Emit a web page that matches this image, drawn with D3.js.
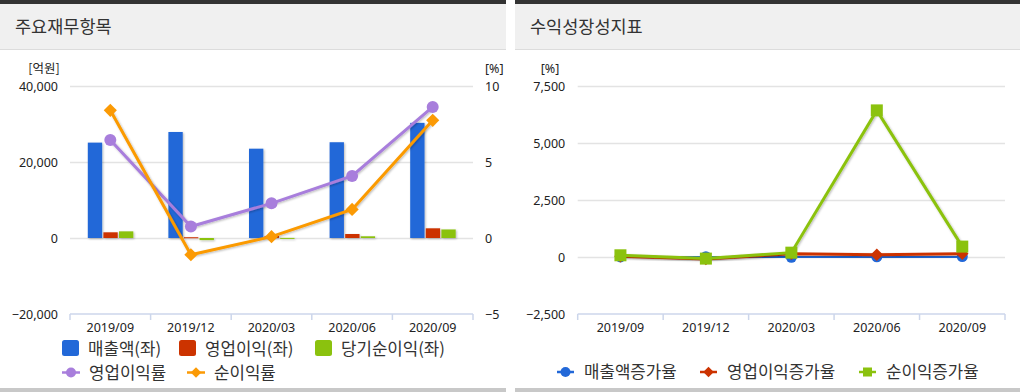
<!DOCTYPE html>
<html><head><meta charset="utf-8">
<script src="https://cdn.jsdelivr.net/npm/d3@7"></script>
<style>
html,body{margin:0;padding:0;background:#fff;}
svg{display:block;font-family:"Noto Sans CJK KR","Noto Sans",sans-serif;}
</style></head>
<body><svg id="c" width="1020" height="392"></svg>
<script>
// ---- data ----
const categories = ["2019/09","2019/12","2020/03","2020/06","2020/09"];
const revenue = [25100, 27900, 23500, 25200, 30300];       // 매출액(좌)
const opProfit = [1500, 200, 540, 1050, 2550];             // 영업이익(좌)
const netProfit = [1750, -550, 30, 450, 2250];             // 당기순이익(좌)
const opMargin = [6.45, 0.76, 2.28, 4.08, 8.62];           // 영업이익률
const netMargin = [8.4, -1.1, 0.09, 1.88, 7.74];           // 순이익률
const leftTicks = [-20000, 0, 20000, 40000];
const rightTicks = [-5, 0, 5, 10];
const revGrowth = [5, 11, -16, 7, 20];                     // 매출액증가율
const opGrowth = [30, -87, 145, 94, 148];                  // 영업이익증가율
const netGrowth = [75, -70, 190, 6430, 456];               // 순이익증가율
const growthTicks = [-2500, 0, 2500, 5000, 7500];

const C = {blue:"#2268d8", red:"#cc3300", green:"#8bc20e", purple:"#a87edc", orange:"#fb9a05",
  grid:"#e3e3e3", axis:"#ccd6eb", text:"#222", legend:"#333"};
const NUMFONT = "'Noto Sans','DejaVu Sans',sans-serif";

const svg = d3.select("#c");
const defs = svg.append("defs");
const f = defs.append("filter").attr("id","sh").attr("x","-20%").attr("y","-20%").attr("width","150%").attr("height","150%");
f.append("feDropShadow").attr("dx",1).attr("dy",1).attr("stdDeviation",1).attr("flood-color","#000").attr("flood-opacity",0.28);

// ---- panels ----
function panel(x0, w, title){
  const g = svg.append("g");
  g.append("rect").attr("x",x0).attr("y",0).attr("width",w).attr("height",4).attr("fill","#333");
  g.append("rect").attr("x",x0).attr("y",4).attr("width",w).attr("height",45).attr("fill","#f0f0f0");
  g.append("rect").attr("x",x0).attr("y",49).attr("width",w).attr("height",1).attr("fill","#dcdcdc");
  g.append("rect").attr("x",x0).attr("y",388).attr("width",w).attr("height",4).attr("fill","#c8c8c8");
  g.append("text").attr("x",x0+15).attr("y",27).attr("dy","0.35em").attr("font-size",17.5)
    .attr("fill","#333").text(title);
}
panel(0, 506, "주요재무항목");
panel(515, 505, "수익성장성지표");

function styleTicks(s){
  s.select(".domain").remove();
  s.selectAll("text").attr("font-size",12.5).attr("fill",C.text).attr("font-family",NUMFONT);
}

// ---- left chart ----
(function(){
  const L=70, R=473, T=86, B=314;
  const x = d3.scaleBand().domain(categories).range([L,R]);
  const cx = c => x(c)+x.bandwidth()/2;
  const y = d3.scaleLinear().domain([-20000,40000]).range([B,T]);
  const y2 = d3.scaleLinear().domain([-5,10]).range([B,T]);
  const g = svg.append("g");
  g.append("g").attr("transform",`translate(${L},0)`)
    .call(d3.axisLeft(y).tickValues(leftTicks.filter(v=>v!==-20000)).tickSize(-(R-L)).tickFormat(""))
    .call(s=>{s.select(".domain").remove(); s.selectAll("line").attr("stroke",C.grid).attr("stroke-width",1.5);});
  g.append("g").attr("transform",`translate(${L-12},0)`)
    .call(d3.axisLeft(y).tickValues(leftTicks).tickSize(0).tickPadding(0).tickFormat(d3.format(",")))
    .call(styleTicks);
  g.append("g").attr("transform",`translate(${R+12},0)`)
    .call(d3.axisRight(y2).tickValues(rightTicks).tickSize(0).tickPadding(0))
    .call(styleTicks);
  g.append("text").attr("x",44).attr("y",73).attr("text-anchor","middle").attr("font-size",12.5).attr("fill",C.text).text("[억원]");
  g.append("text").attr("x",485).attr("y",73).attr("font-size",12.5).attr("fill",C.text).attr("font-family",NUMFONT).text("[%]");
  g.append("line").attr("x1",L).attr("x2",R).attr("y1",B).attr("y2",B).attr("stroke",C.axis).attr("stroke-width",1.5);
  const bounds = categories.map(c=>x(c)).concat([R]);
  g.selectAll(".tk").data(bounds).enter().append("line").attr("x1",d=>d).attr("x2",d=>d).attr("y1",B).attr("y2",B+6).attr("stroke",C.axis).attr("stroke-width",1.5);
  g.append("g").attr("transform",`translate(0,${B+14})`)
    .call(d3.axisBottom(x).tickSize(0).tickPadding(0))
    .call(styleTicks).call(s=>s.selectAll("text").attr("dy","0.35em"));
  // bars
  const barSeries = [{k:"rev",v:revenue,c:C.blue},{k:"op",v:opProfit,c:C.red},{k:"net",v:netProfit,c:C.green}];
  const x1 = d3.scaleBand().domain(barSeries.map(d=>d.k)).range([-22.5,23]).paddingInner(0.08);
  barSeries.forEach(s=>{
    g.append("g").attr("filter","url(#sh)").selectAll("rect").data(s.v).enter().append("rect")
      .attr("x",(d,i)=>cx(categories[i])+x1(s.k)).attr("width",x1.bandwidth())
      .attr("y",d=>y(Math.max(0,d))).attr("height",d=>Math.max(1,Math.abs(y(d)-y(0))))
      .attr("fill",s.c);
  });
  // lines
  const line = d3.line().x((d,i)=>cx(categories[i])).y(d=>y2(d));
  g.append("path").datum(opMargin).attr("d",line).attr("fill","none").attr("stroke",C.purple).attr("stroke-width",3).attr("filter","url(#sh)");
  g.append("g").selectAll("circle").data(opMargin).enter().append("circle")
    .attr("cx",(d,i)=>cx(categories[i])).attr("cy",d=>y2(d)).attr("r",6).attr("fill",C.purple);
  g.append("path").datum(netMargin).attr("d",line).attr("fill","none").attr("stroke",C.orange).attr("stroke-width",3).attr("filter","url(#sh)");
  g.append("g").selectAll("path.dm").data(netMargin).enter().append("path")
    .attr("d",d3.symbol(d3.symbolDiamond2,110)).attr("transform",(d,i)=>`translate(${cx(categories[i])},${y2(d)})`)
    .attr("fill",C.orange);
  // legend
  const lg = svg.append("g").attr("font-size",16.8).attr("fill",C.legend);
  const sq = [{x:62,c:C.blue,t:"매출액(좌)"},{x:179,c:C.red,t:"영업이익(좌)"},{x:315,c:C.green,t:"당기순이익(좌)"}];
  sq.forEach(s=>{
    lg.append("rect").attr("x",s.x).attr("y",340).attr("width",17).attr("height",16).attr("rx",2.5).attr("fill",s.c);
    lg.append("text").attr("x",s.x+26).attr("y",348.5).attr("dy","0.36em").text(s.t);
  });
  const ls = [{x:62,c:C.purple,t:"영업이익률",m:"c"},{x:187,c:C.orange,t:"순이익률",m:"d"}];
  ls.forEach(s=>{
    lg.append("line").attr("x1",s.x).attr("x2",s.x+18).attr("y1",372.5).attr("y2",372.5).attr("stroke",s.c).attr("stroke-width",2.5);
    if(s.m==="c") lg.append("circle").attr("cx",s.x+9).attr("cy",372.5).attr("r",5).attr("fill",s.c);
    else lg.append("path").attr("d",d3.symbol(d3.symbolDiamond2,70)).attr("transform",`translate(${s.x+9},372.5)`).attr("fill",s.c);
    lg.append("text").attr("x",s.x+27).attr("y",372.5).attr("dy","0.36em").text(s.t);
  });
})();

// ---- right chart ----
(function(){
  const L=577.7, R=1005, T=86, B=314;
  const x = d3.scaleBand().domain(categories).range([L,R]);
  const cx = c => x(c)+x.bandwidth()/2;
  const y = d3.scaleLinear().domain([-2500,7500]).range([B,T]);
  const g = svg.append("g");
  g.append("g").attr("transform",`translate(${L},0)`)
    .call(d3.axisLeft(y).tickValues(growthTicks.filter(v=>v!==-2500)).tickSize(-(R-L)).tickFormat(""))
    .call(s=>{s.select(".domain").remove(); s.selectAll("line").attr("stroke",C.grid).attr("stroke-width",1.5);});
  g.append("g").attr("transform",`translate(${L-12.5},0)`)
    .call(d3.axisLeft(y).tickValues(growthTicks).tickSize(0).tickPadding(0).tickFormat(d3.format(",")))
    .call(styleTicks);
  g.append("text").attr("x",550).attr("y",73).attr("text-anchor","middle").attr("font-size",12.5).attr("fill",C.text).attr("font-family",NUMFONT).text("[%]");
  g.append("line").attr("x1",L).attr("x2",R).attr("y1",B).attr("y2",B).attr("stroke",C.axis).attr("stroke-width",1.5);
  const bounds = categories.map(c=>x(c)).concat([R]);
  g.selectAll(".tk").data(bounds).enter().append("line").attr("x1",d=>d).attr("x2",d=>d).attr("y1",B).attr("y2",B+6).attr("stroke",C.axis).attr("stroke-width",1.5);
  g.append("g").attr("transform",`translate(0,${B+14})`)
    .call(d3.axisBottom(x).tickSize(0).tickPadding(0))
    .call(styleTicks).call(s=>s.selectAll("text").attr("dy","0.35em"));
  const line = d3.line().x((d,i)=>cx(categories[i])).y(d=>y(d));
  const series = [{v:revGrowth,c:C.blue,m:"c"},{v:opGrowth,c:C.red,m:"d"},{v:netGrowth,c:C.green,m:"s"}];
  series.forEach(s=>{
    g.append("path").datum(s.v).attr("d",line).attr("fill","none").attr("stroke",s.c).attr("stroke-width",3).attr("filter","url(#sh)");
    const mk = g.append("g").selectAll("x").data(s.v).enter();
    if(s.m==="c") mk.append("circle").attr("cx",(d,i)=>cx(categories[i])).attr("cy",d=>y(d)).attr("r",5.5).attr("fill",s.c);
    else if(s.m==="d") mk.append("path").attr("d",d3.symbol(d3.symbolDiamond2,100)).attr("transform",(d,i)=>`translate(${cx(categories[i])},${y(d)})`).attr("fill",s.c);
    else mk.append("rect").attr("x",(d,i)=>cx(categories[i])-6).attr("y",d=>y(d)-6).attr("width",12).attr("height",12).attr("fill",s.c);
  });
  const lg = svg.append("g").attr("font-size",16.8).attr("fill",C.legend);
  const items = [{x:557,c:C.blue,t:"매출액증가율",m:"c"},{x:700,c:C.red,t:"영업이익증가율",m:"d"},{x:859,c:C.green,t:"순이익증가율",m:"s"}];
  items.forEach(s=>{
    lg.append("line").attr("x1",s.x).attr("x2",s.x+17).attr("y1",372).attr("y2",372).attr("stroke",s.c).attr("stroke-width",2.5);
    if(s.m==="c") lg.append("circle").attr("cx",s.x+8.5).attr("cy",372).attr("r",5).attr("fill",s.c);
    else if(s.m==="d") lg.append("path").attr("d",d3.symbol(d3.symbolDiamond2,70)).attr("transform",`translate(${s.x+8.5},372)`).attr("fill",s.c);
    else lg.append("rect").attr("x",s.x+4).attr("y",367.5).attr("width",9).attr("height",9).attr("fill",s.c);
    lg.append("text").attr("x",s.x+27).attr("y",372).attr("dy","0.36em").text(s.t);
  });
})();
</script></body></html>
